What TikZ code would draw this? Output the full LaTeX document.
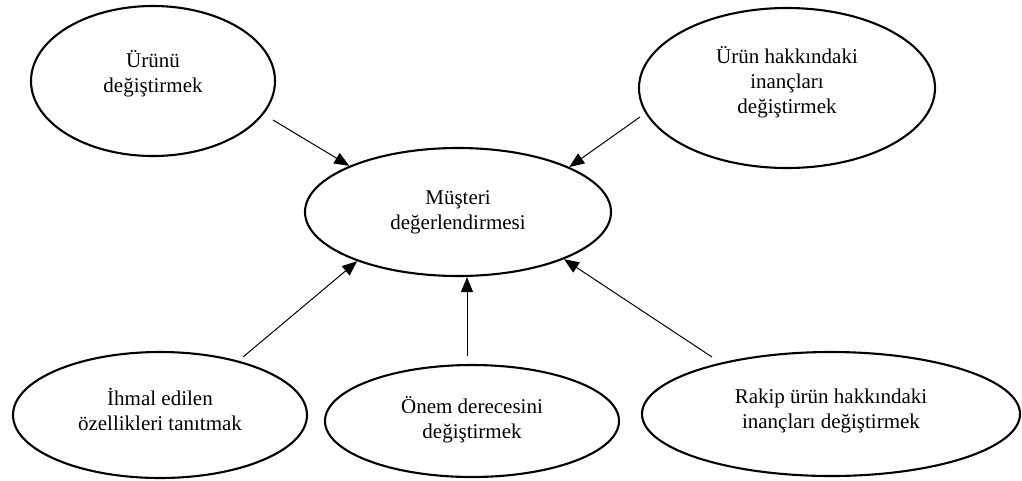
\documentclass[tikz,border=0pt]{standalone}
\usepackage{fontspec}
\setmainfont{Liberation Serif}
\usetikzlibrary{shapes.geometric,arrows.meta}
\tikzset{
  oval/.style={draw, ellipse, line width=2.1pt, inner sep=0pt, align=center,
    font=\fontsize{21}{25}\selectfont},
  arr/.style={line width=1pt, -{Triangle[length=15pt,width=12pt]}}
}
\begin{document}
\begin{tikzpicture}[x=1pt,y=-1pt]
\useasboundingbox (0,0) rectangle (1022,480);
\node[oval, minimum width=244pt, minimum height=150pt] (e1) at (153,81) {Ürünü\\değiştirmek\\[-6pt]};
\node[oval, minimum width=296pt, minimum height=160pt] (e2) at (787,88) {Ürün hakkındaki\\inançları\\değiştirmek\\[-9pt]};
\node[oval, minimum width=306pt, minimum height=128pt] (e0) at (458,212) {Müşteri\\değerlendirmesi};
\node[oval, minimum width=294pt, minimum height=126pt] (e4) at (160,415) {İhmal edilen\\özellikleri tanıtmak\\[-14pt]};
\node[oval, minimum width=294pt, minimum height=112pt] (e5) at (472,421) {Önem derecesini\\değiştirmek\\[-18pt]};
\node[oval, minimum width=378pt, minimum height=124pt] (e6) at (831,414) {Rakip ürün hakkındaki\\inançları değiştirmek\\[-15pt]};
\coordinate (s1) at (273,120);
\coordinate (s2) at (640,117);
\coordinate (s3) at (243,357);
\coordinate (s4) at (467,356);
\coordinate (s5) at (712,357);
\draw[arr] (s1) -- (e0.157.1);
\draw[arr] (s2) -- (e0.22.5);
\draw[arr] (s3) -- (e0.206.8);
\draw[arr] (s4) -- (s4 |- e0.south);
\draw[arr] (s5) -- (e0.-24.4);
\end{tikzpicture}
\end{document}
